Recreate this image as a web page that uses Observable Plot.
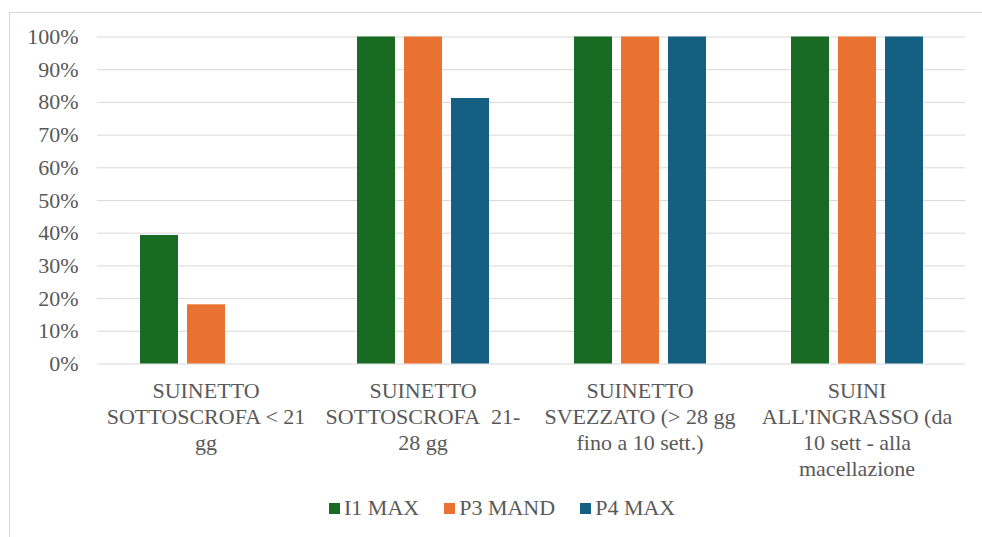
<!DOCTYPE html>
<html>
<head>
<meta charset="utf-8">
<script src="https://cdn.jsdelivr.net/npm/d3@7"></script>
<script src="https://cdn.jsdelivr.net/npm/@observablehq/plot@0.6"></script>
<style>
  html, body { margin: 0; padding: 0; background: #fff; width: 982px; height: 537px; overflow: hidden; }
  #frame { position: absolute; left: 9px; top: 12px; width: 1000px; height: 560px; border: 1px solid #d9d9d9; box-sizing: border-box; }
  #chart { position: absolute; left: 0; top: 0; }
  #legend { position: absolute; left: 329px; top: 497px; display: flex; align-items: center;
            font-family: "Liberation Serif", Tinos, "Times New Roman", Times, "DejaVu Serif", serif; font-size: 22px; line-height: 22px; color: #595959; }
  .item { display: flex; align-items: center; margin-right: 25px; }
  .sw { width: 11px; height: 11px; margin-right: 4px; }
  svg text { font-family: "Liberation Serif", Tinos, "Times New Roman", Times, "DejaVu Serif", serif; }
</style>
</head>
<body>
<div id="frame"></div>
<div id="chart"></div>
<div id="legend"></div>
<script>
const categories = [
  "SUINETTO SOTTOSCROFA < 21 gg",
  "SUINETTO SOTTOSCROFA 21-28 gg",
  "SUINETTO SVEZZATO (> 28 gg fino a 10 sett.)",
  "SUINI ALL'INGRASSO (da 10 sett - alla macellazione"
];
const tickLabels = [
  "SUINETTO\nSOTTOSCROFA < 21\ngg",
  "SUINETTO\nSOTTOSCROFA\u00a0 21-\n28 gg",
  "SUINETTO\nSVEZZATO (> 28 gg\nfino a 10 sett.)",
  "SUINI\nALL'INGRASSO (da\n10 sett - alla\nmacellazione"
];
const series = ["I1 MAX", "P3 MAND", "P4 MAX"];
const i1Max  = [39.3, 100, 100, 100];
const p3Mand = [18.1, 100, 100, 100];
const p4Max  = [0, 81.2, 100, 100];
const colors = ["#196B24", "#E97132", "#156082"];
const yTicks = [0, 10, 20, 30, 40, 50, 60, 70, 80, 90, 100];

const seriesValues = [i1Max, p3Mand, p4Max];
const data = categories.flatMap((c, i) =>
  series.map((s, j) => ({category: c, series: s, value: seriesValues[j][i]})));

const fontFamily = '"Liberation Serif", Tinos, "Times New Roman", Times, "DejaVu Serif", serif';

const chart = Plot.plot({
  width: 982,
  height: 470,
  marginLeft: 95,
  marginRight: 16,
  marginTop: 36.5,
  marginBottom: 106.5,
  style: {fontFamily, fontSize: "22px", color: "#595959", background: "transparent", overflow: "visible"},
  fx: {domain: categories, padding: 0, label: null},
  x: {domain: series, paddingInner: 0.2, paddingOuter: 0.88, axis: null},
  y: {domain: [0, 100], label: null},
  color: {domain: series, range: colors},
  marks: [
    Plot.gridY(yTicks, {stroke: "#d9d9d9", strokeOpacity: 1, strokeWidth: 1}),
    Plot.barY(data, {fx: "category", x: "series", y: "value", fill: "series"}),
    Plot.axisY(yTicks, {tickSize: 0, tickPadding: 19, tickFormat: d => d + "%", label: null, fontSize: 22}),
    Plot.axisFx({anchor: "bottom", tickSize: 0, tickPadding: 16, label: null, fontSize: 22, lineHeight: 1.18,
                 tickFormat: d => tickLabels[categories.indexOf(d)]})
  ]
});
document.getElementById("chart").appendChild(chart);

const legend = document.getElementById("legend");
series.forEach((s, j) => {
  const item = document.createElement("div");
  item.className = "item";
  const sw = document.createElement("div");
  sw.className = "sw";
  sw.style.background = colors[j];
  const t = document.createElement("span");
  t.textContent = s;
  item.appendChild(sw);
  item.appendChild(t);
  legend.appendChild(item);
});
</script>
</body>
</html>
